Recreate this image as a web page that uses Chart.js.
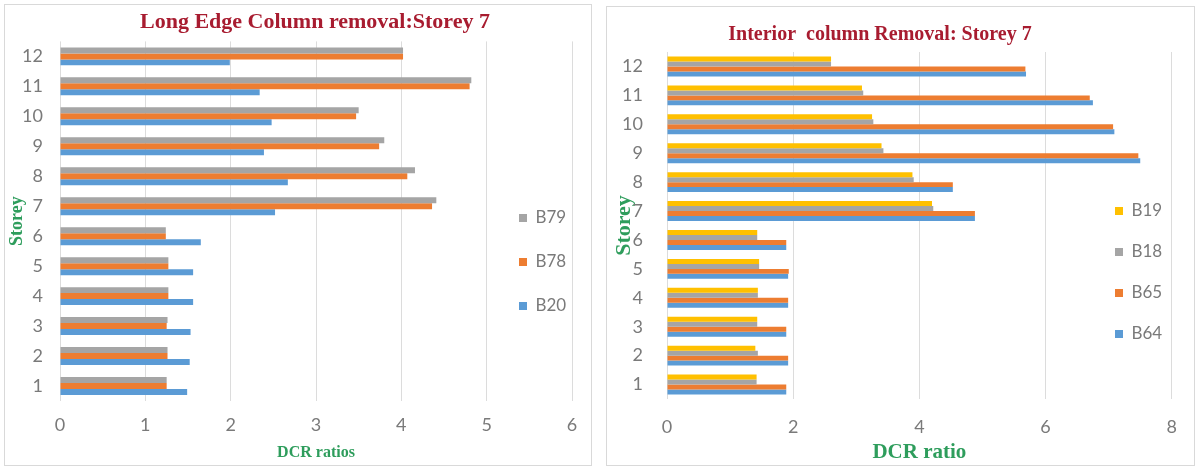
<!DOCTYPE html>
<html>
<head>
<meta charset="utf-8">
<script src="https://cdn.jsdelivr.net/npm/chart.js@4/dist/chart.umd.min.js"></script>
<style>
  body { margin: 0; background: #fff; width: 1197px; height: 468px; position: relative; overflow: hidden; }
  .panel { position: absolute; border: 1px solid #d9d9d9; background: #fff; }
  #p1 { left: 4px; top: 4px; width: 586px; height: 460px; }
  #p2 { left: 606px; top: 6px; width: 587px; height: 458px; }
  canvas { display: block; }
</style>
</head>
<body>
<div class="panel" id="p1"><canvas id="edgeChart" width="586" height="460"></canvas></div>
<div class="panel" id="p2"><canvas id="interiorChart" width="587" height="458"></canvas></div>
<script>
// storeys, bottom to top
const storeys = ['1', '2', '3', '4', '5', '6', '7', '8', '9', '10', '11', '12'];

// Long edge column removal
const edgeB20 = [1.49, 1.52, 1.53, 1.56, 1.56, 1.65, 2.52, 2.67, 2.39, 2.48, 2.34, 1.99];
const edgeB78 = [1.25, 1.26, 1.25, 1.27, 1.27, 1.24, 4.36, 4.07, 3.74, 3.47, 4.80, 4.02];
const edgeB79 = [1.25, 1.26, 1.26, 1.27, 1.27, 1.24, 4.41, 4.16, 3.80, 3.50, 4.82, 4.02];

// Interior column removal
const intB64 = [1.89, 1.92, 1.89, 1.92, 1.92, 1.89, 4.88, 4.53, 7.50, 7.09, 6.75, 5.69];
const intB65 = [1.89, 1.92, 1.89, 1.92, 1.93, 1.89, 4.88, 4.53, 7.47, 7.07, 6.70, 5.68];
const intB18 = [1.42, 1.44, 1.43, 1.44, 1.46, 1.43, 4.22, 3.91, 3.43, 3.27, 3.11, 2.60];
const intB19 = [1.42, 1.40, 1.43, 1.44, 1.46, 1.43, 4.20, 3.89, 3.40, 3.25, 3.09, 2.60];

const blue = '#5b9bd5', orange = '#ed7d31', gray = '#a5a5a5', yellow = '#ffc000';
const tickColor = '#7a7a7a';
const titleRed = '#a81c30';
const axisGreen = '#2e9d5c';
const sans = "Lato, 'Liberation Sans', sans-serif";
const serif = "'Liberation Serif', 'DejaVu Serif', serif";

// moves the legend and the title block after layout
const placeBlocks = {
  id: 'placeBlocks',
  afterLayout(chart, args, opts) {
    const lg = chart.legend;
    if (lg && opts.legendX != null) {
      lg.left = opts.legendX - opts.pad;
      lg.top = opts.legendY - opts.pad - opts.fontSize / 2;
      lg.right = lg.left + lg.width;
      lg.bottom = lg.top + 400;
    }
    const tb = chart.titleBlock;
    if (tb && opts.titleX != null) {
      const half = (tb.right - tb.left) / 2;
      tb.left = opts.titleX - half;
      tb.right = opts.titleX + half;
    }
  }
};

function makeChart(id, datasets, cfg) {
  return new Chart(document.getElementById(id), {
    type: 'bar',
    data: { labels: storeys, datasets: datasets },
    options: {
      indexAxis: 'y',
      responsive: false,
      animation: false,
      datasets: { bar: { categoryPercentage: cfg.catPct, barPercentage: 1, borderWidth: 0 } },
      layout: { padding: { left: 0, right: cfg.padRight, top: 0, bottom: 0 } },
      scales: {
        x: {
          min: 0, max: cfg.xMax,
          ticks: { stepSize: cfg.step, color: tickColor, font: { family: sans, size: 18 }, padding: cfg.xTickPad },
          grid: { color: '#dcdcdc', drawTicks: false },
          border: { display: false },
          title: { display: true, text: cfg.xTitle, color: axisGreen,
                   font: { family: serif, size: cfg.xTitleSize, weight: 'bold' }, padding: { top: 0, bottom: cfg.xTitlePad } },
          afterFit(s) { s.height = cfg.xHeight; }
        },
        y: {
          reverse: true,
          grid: { display: false, drawTicks: false },
          border: { display: false },
          ticks: { color: tickColor, font: { family: sans, size: 18 }, padding: cfg.yTickPad },
          title: { display: true, text: 'Storey', color: axisGreen,
                   font: { family: serif, size: cfg.yTitleSize, weight: 'bold' }, padding: { top: cfg.yTitlePad, bottom: 0 } },
          afterFit(s) { s.width = cfg.yWidth; }
        }
      },
      plugins: {
        title: { display: true, text: cfg.title, color: titleRed,
                 font: { family: serif, size: cfg.titleSize, weight: 'bold' }, padding: cfg.titlePad },
        legend: {
          position: 'chartArea', align: 'start',
          labels: { boxWidth: 8, boxHeight: 8, padding: cfg.legendGap, color: tickColor, font: { family: sans, size: 17 } }
        },
        tooltip: { enabled: false },
        placeBlocks: { legendX: cfg.legendX, legendY: cfg.legendY, pad: cfg.legendGap, fontSize: 17, titleX: cfg.titleX }
      }
    },
    plugins: [placeBlocks]
  });
}

makeChart('edgeChart', [
  { label: 'B79', data: edgeB79, backgroundColor: gray },
  { label: 'B78', data: edgeB78, backgroundColor: orange },
  { label: 'B20', data: edgeB20, backgroundColor: blue }
], {
  title: 'Long Edge Column removal:Storey 7', titleSize: 22, titlePad: { top: 4, bottom: 6 }, titleX: 310,
  xMax: 6, step: 1, xTitle: 'DCR ratios', xTitleSize: 16, xTitlePad: 3, xHeight: 64, xTickPad: 13,
  yWidth: 55, yTickPad: 17, yTitleSize: 18, yTitlePad: 2,
  padRight: 19, catPct: 0.6,
  legendX: 514, legendY: 213, legendGap: 27
});

makeChart('interiorChart', [
  { label: 'B19', data: intB19, backgroundColor: yellow },
  { label: 'B18', data: intB18, backgroundColor: gray },
  { label: 'B65', data: intB65, backgroundColor: orange },
  { label: 'B64', data: intB64, backgroundColor: blue }
], {
  title: 'Interior  column Removal: Storey 7', titleSize: 20, titlePad: { top: 16, bottom: 5 }, titleX: 273,
  xMax: 8, step: 2, xTitle: 'DCR ratio', xTitleSize: 21, xTitlePad: 0, xHeight: 66, xTickPad: 17,
  yWidth: 60, yTickPad: 24, yTitleSize: 22, yTitlePad: 4,
  padRight: 13, catPct: 0.69,
  legendX: 508, legendY: 204, legendGap: 24
});
</script>
</body>
</html>
